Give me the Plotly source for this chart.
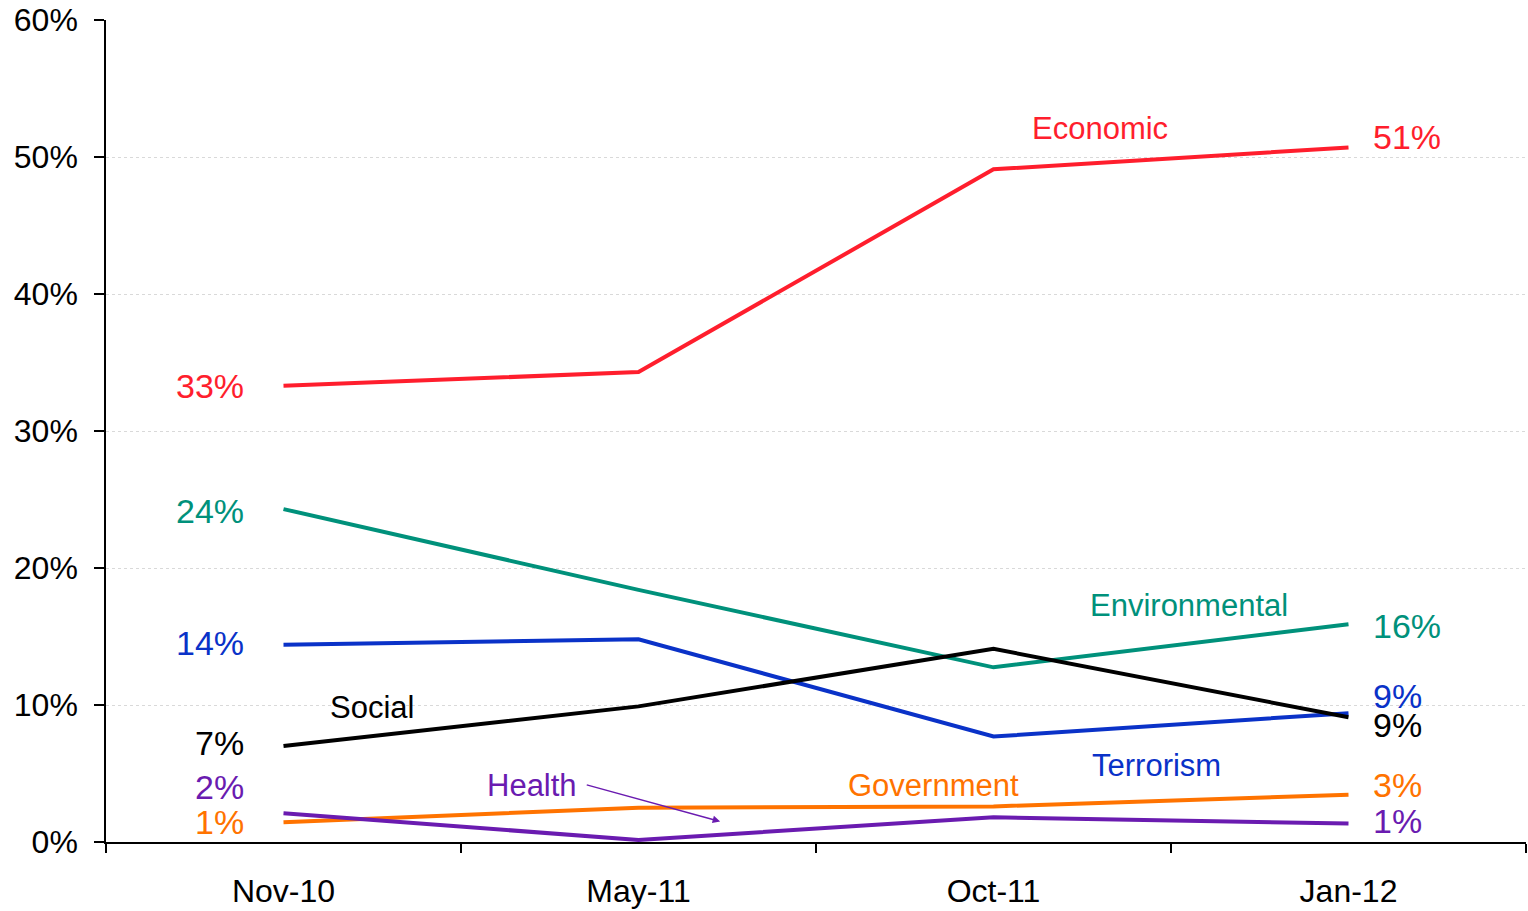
import plotly.graph_objects as go

# Survey waves
periods = ["Nov-10", "May-11", "Oct-11", "Jan-12"]

# Share of respondents naming each issue (%)
economic = [33.3, 34.3, 49.1, 50.7]
environmental = [24.3, 18.4, 12.75, 15.9]
terrorism = [14.4, 14.8, 7.7, 9.4]
social = [7.0, 9.9, 14.1, 9.1]
government = [1.45, 2.5, 2.6, 3.45]
health = [2.1, 0.15, 1.8, 1.35]

series = [
    ("Economic", economic, "#FF1E2D"),
    ("Environmental", environmental, "#00917B"),
    ("Terrorism", terrorism, "#0A32C8"),
    ("Social", social, "#000000"),
    ("Government", government, "#FF7300"),
    ("Health", health, "#6A1BB0"),
]

# vertical nudges (px, positive = up) for the start / end value labels
label_shift = {
    "Economic": (0, 10),
    "Environmental": (-2, -2),
    "Terrorism": (2, 17),
    "Social": (3, -8),
    "Government": (0, 10),
    "Health": (26, 3),
}

# series name placement (category index, value)
name_pos = {
    "Economic": (2.3, 52.1),
    "Environmental": (2.55, 17.25),
    "Terrorism": (2.46, 5.6),
    "Social": (0.25, 9.85),
    "Government": (1.83, 4.15),
}

FONT = "Liberation Sans, Arial, sans-serif"

fig = go.Figure()
idx = list(range(len(periods)))
for name, vals, color in series:
    fig.add_trace(go.Scatter(
        x=idx, y=vals, mode="lines", name=name,
        line=dict(color=color, width=4),
        showlegend=False, hoverinfo="skip",
    ))

annotations = []
for name, vals, color in series:
    s0, s1 = label_shift[name]
    annotations.append(dict(
        x=0, y=vals[0], xref="x", yref="y", text=f"{round(vals[0])}%",
        showarrow=False, xanchor="right", yanchor="middle",
        xshift=-38, yshift=s0, font=dict(family=FONT, size=34, color=color),
    ))
    annotations.append(dict(
        x=len(vals) - 1, y=vals[-1], xref="x", yref="y", text=f"{round(vals[-1])}%",
        showarrow=False, xanchor="left", yanchor="middle",
        xshift=22, yshift=s1, font=dict(family=FONT, size=34, color=color),
    ))
    if name in name_pos:
        nx, ny = name_pos[name]
        annotations.append(dict(
            x=nx, y=ny, xref="x", yref="y", text=name, showarrow=False,
            xanchor="center", yanchor="middle",
            font=dict(family=FONT, size=31, color=color),
        ))

# Health label with pointer to its line
annotations.append(dict(
    x=1.23, y=1.5, xref="x", yref="y", ax=0.85, ay=4.2, axref="x", ayref="y",
    text="", showarrow=True, arrowhead=2, arrowsize=1, arrowwidth=1.5,
    arrowcolor="#6A1BB0",
))
annotations.append(dict(
    x=0.70, y=4.15, xref="x", yref="y", text="Health", showarrow=False,
    xanchor="center", yanchor="middle",
    font=dict(family=FONT, size=31, color="#6A1BB0"),
))

fig.update_layout(
    width=1528, height=911,
    margin=dict(l=106, r=2, t=19, b=67),
    paper_bgcolor="white", plot_bgcolor="white",
    annotations=annotations,
    font=dict(family=FONT, size=32, color="black"),
)
fig.update_xaxes(
    range=[-0.5, 3.5], tickmode="array", tickvals=idx, ticktext=periods,
    ticks="", showgrid=False, showline=True, linecolor="black", linewidth=1.5,
    zeroline=False, ticklabelstandoff=20,
)
# boundary tick marks between categories
fig.update_xaxes(minor=dict(tickmode="array", tickvals=[-0.5, 0.5, 1.5, 2.5, 3.5],
                            ticks="outside", ticklen=9, tickwidth=1.5, tickcolor="black",
                            showgrid=False))
fig.update_yaxes(
    range=[0, 60], tickvals=[0, 10, 20, 30, 40, 50, 60],
    ticktext=["0%", "10%", "20%", "30%", "40%", "50%", "60%"],
    ticks="outside", ticklen=10, tickwidth=1.5, tickcolor="black",
    showline=True, linecolor="black", linewidth=1.5,
    showgrid=True, gridcolor="#d9d9d9", griddash="dot", gridwidth=1,
    zeroline=False, ticklabelstandoff=10,
)

fig.write_html("out.html")
